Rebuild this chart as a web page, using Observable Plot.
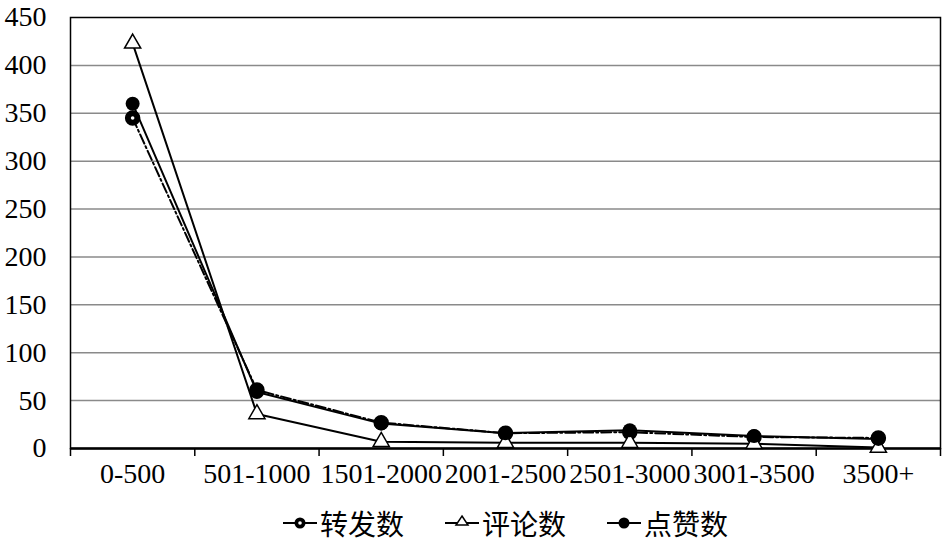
<!DOCTYPE html>
<html>
<head>
<meta charset="utf-8">
<script src="https://cdn.jsdelivr.net/npm/d3@7"></script>
<script src="https://cdn.jsdelivr.net/npm/@observablehq/plot@0.6"></script>
<style>
  html, body { margin: 0; padding: 0; background: #fff; }
  #chart svg { display: block; }
  #chart svg text { font-family: "Liberation Serif", "DejaVu Serif", serif !important; font-size: 28px !important; fill: #000; }
  #legend { display: flex; justify-content: center; align-items: center; height: 46px; padding-left: 64px; box-sizing: border-box; width: 946px;
    font-family: "Noto Sans CJK SC", sans-serif; font-size: 28px; color: #000; }
  .item { display: flex; align-items: center; margin: 0 20px; }
  .item svg { margin-right: 2px; }
</style>
</head>
<body>
<div id="chart"></div>
<div id="legend"></div>
<script>
const categories = ["0-500", "501-1000", "1501-2000", "2001-2500", "2501-3000", "3001-3500", "3500+"];
const forwards = [345, 61, 27, 16, 17, 12, 11];   // 转发数
const comments = [423, 36, 7, 6, 6, 5, 1];         // 评论数
const likes    = [360, 59, 26, 16, 19, 13, 10];    // 点赞数
const yTicks = [0, 50, 100, 150, 200, 250, 300, 350, 400, 450];
const seriesNames = ["转发数", "评论数", "点赞数"];

const rows = (vals) => vals.map((v, i) => ({i, cat: categories[i], value: v}));
const fw = rows(forwards), cm = rows(comments), lk = rows(likes);
const xc = d => d.i + 0.5;
const boundaries = d3.range(categories.length + 1);
const centers = categories.map((c, i) => i + 0.5);
const serif = "Liberation Serif, DejaVu Serif, serif";

const chart = Plot.plot({
  width: 946,
  height: 500,
  marginLeft: 70,
  marginRight: 6,
  marginTop: 17,
  marginBottom: 52,
  style: {fontFamily: serif, fontSize: "28px", color: "#000", background: "#fff"},
  x: {type: "linear", domain: [0, categories.length]},
  y: {domain: [0, 450]},
  marks: [
    Plot.ruleY(yTicks.filter(v => v > 0 && v < 450), {stroke: "#8a8a8a", strokeWidth: 1.5}),
    Plot.frame({stroke: "#000", strokeWidth: 1.5}),
    Plot.ruleY([0], {stroke: "#000", strokeWidth: 2.5}),
    Plot.axisY({ticks: yTicks, tickSize: 0, tickPadding: 24, label: null, fill: "#000", fontFamily: serif, fontSize: 28}),
    Plot.axisX({ticks: boundaries, tickSize: 8, tickFormat: () => "", label: null, stroke: "#000", strokeWidth: 1.5}),
    Plot.axisX({ticks: centers, tickSize: 0, tickPadding: 15, tickFormat: v => categories[Math.floor(v)], label: null, fill: "#000", fontFamily: serif, fontSize: 28}),
    // 转发数
    Plot.line(fw, {x: xc, y: "value", stroke: "#000", strokeWidth: 2, strokeDasharray: "10,3,2,3"}),
    // 评论数
    Plot.line(cm, {x: xc, y: "value", stroke: "#000", strokeWidth: 2}),
    // 点赞数
    Plot.line(lk, {x: xc, y: "value", stroke: "#000", strokeWidth: 2}),
    Plot.dot(fw, {x: xc, y: "value", r: 7, fill: "#000", stroke: "#000"}),
    Plot.dot(fw, {x: xc, y: "value", r: 1.8, fill: "#fff", stroke: "none"}),
    Plot.dot(cm, {x: xc, y: "value", r: 6, symbol: "triangle", fill: "#fff", stroke: "#000", strokeWidth: 1.5}),
    Plot.dot(lk, {x: xc, y: "value", r: 7, fill: "#000"})
  ]
});
document.getElementById("chart").appendChild(chart);

const markerSvgs = [
  `<line x1="1" y1="12" x2="35" y2="12" stroke="#000" stroke-width="2"/><circle cx="18" cy="12" r="5.5" fill="#000"/><circle cx="18" cy="12" r="1.8" fill="#fff"/>`,
  `<line x1="1" y1="12" x2="35" y2="12" stroke="#000" stroke-width="2"/><path d="M18,5 L24,14 L12,14 Z" fill="#fff" stroke="#000" stroke-width="1.5"/>`,
  `<line x1="1" y1="12" x2="35" y2="12" stroke="#000" stroke-width="2"/><circle cx="18" cy="12" r="5.5" fill="#000"/>`
];
const legend = document.getElementById("legend");
seriesNames.forEach((name, k) => {
  const it = document.createElement("div");
  it.className = "item";
  it.innerHTML = `<svg width="36" height="24">${markerSvgs[k]}</svg><span>${name}</span>`;
  legend.appendChild(it);
});
</script>
</body>
</html>
